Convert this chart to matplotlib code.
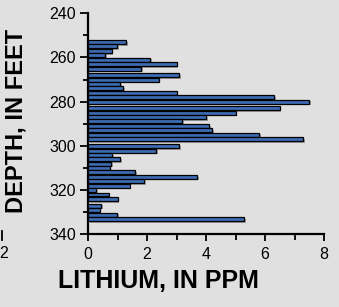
import matplotlib
matplotlib.use("Agg")
import matplotlib.pyplot as plt
import matplotlib.patheffects as pe
from matplotlib.lines import Line2D

plt.rcParams['font.family'] = ['Liberation Sans', 'DejaVu Sans']

# Data: depth (ft, bar centre) and lithium (ppm)
depth = [253.0, 255.0, 257.1, 259.0, 261.0, 263.0, 265.1, 268.0, 270.1, 272.0,
         274.0, 276.0, 278.1, 280.0, 282.9, 285.0, 287.0, 288.9, 291.0, 293.0,
         295.0, 297.1, 300.1, 302.2, 304.2, 306.1, 308.1, 310.0, 312.0, 314.1,
         316.1, 318.1, 320.1, 322.1, 324.1, 327.2, 329.2, 331.3, 333.3]
lithium = [1.30, 0.99, 0.80, 0.59, 2.10, 3.00, 1.80, 3.09, 2.40, 1.09,
           1.20, 3.00, 6.31, 7.50, 6.50, 5.00, 4.00, 3.20, 4.11, 4.21,
           5.81, 7.30, 3.10, 2.31, 0.82, 1.09, 0.79, 0.73, 1.60, 3.70,
           1.91, 1.41, 0.28, 0.70, 1.00, 0.45, 0.39, 0.98, 5.30]
xticks = [0, 2, 4, 6, 8]
yticks = [240, 260, 280, 300, 320, 340]

bg = '#e0e0e0'
fig = plt.figure(figsize=(3.39, 3.07), dpi=100, facecolor=bg)
ax = fig.add_axes([88/339, 1-234/307, (324-88)/339, (234-13.3)/307])
ax.set_facecolor(bg)

bars = ax.barh(depth, lithium, height=1.8, color='#3d6cb3', edgecolor='black',
               linewidth=0.9, zorder=3)
for b in bars:
    b.set_path_effects([pe.SimplePatchShadow(offset=(1.2, -1.2), shadow_rgbFace='#707070', alpha=0.6),
                        pe.Normal()])

ax.set_xlim(0, 8)
ax.set_ylim(340, 240)
ax.set_xticks(xticks)
ax.set_xticks([1, 3, 5, 7], minor=True)
ax.set_yticks(yticks)
ax.set_yticks([250, 270, 290, 310, 330], minor=True)
for s in ['top', 'right']:
    ax.spines[s].set_visible(False)
for s in ['left', 'bottom']:
    ax.spines[s].set_linewidth(1.6)
ax.tick_params(axis='both', which='major', direction='out', width=1.3, labelsize=11.5)
ax.tick_params(axis='y', which='major', length=6, pad=2.5)
ax.tick_params(axis='y', which='minor', length=3.6, width=1.3)
ax.tick_params(axis='x', which='major', length=5, pad=4.5)
ax.tick_params(axis='x', which='minor', length=4, width=1.3)

fig.text(158/339, 1-281/307, 'LITHIUM, IN PPM', ha='center', va='center',
         fontsize=18, fontweight='bold')
fig.text(16/339, 1-121/307, 'DEPTH, IN FEET', ha='center', va='center',
         rotation=90, fontsize=17, fontweight='bold')

# fragments of the neighbouring panel at the left edge
fig.text(4/339, 1-253/307, '2', ha='center', va='center', fontsize=11.5)
fig.add_artist(Line2D([1.5/339, 1.5/339], [1-231/307, 1-240/307], color='black',
                      linewidth=1.3, transform=fig.transFigure))

fig.savefig('out.png', dpi=100, facecolor=bg)
